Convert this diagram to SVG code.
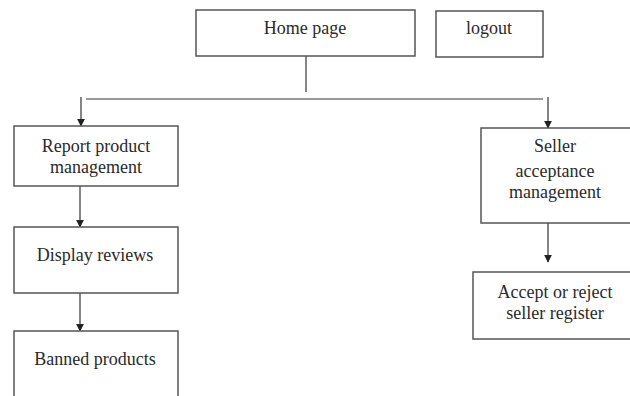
<svg xmlns="http://www.w3.org/2000/svg" width="630" height="396" viewBox="0 0 630 396">
  <style>
    .box { fill: #ffffff; stroke: #555555; stroke-width: 1.5; }
    .lbl { font-family: "Liberation Serif", "Times New Roman", serif; font-size: 18px; fill: #2a2a2a; text-anchor: middle; }
    .wire { fill: none; stroke: #444444; stroke-width: 1.3; }
    .bus { fill: none; stroke: #999999; stroke-width: 2.2; }
  </style>
  <defs>
    <marker id="arrow" viewBox="0 0 10 10" refX="9" refY="5" markerWidth="8" markerHeight="8" markerUnits="userSpaceOnUse" orient="auto">
      <path d="M0,0 L10,5 L0,10 z" fill="#222222"/>
    </marker>
  </defs>
  <rect width="630" height="396" fill="#ffffff"/>

  <g id="connectors">
    <line class="wire" x1="306" y1="56" x2="306" y2="92"/>
    <line class="bus" x1="86" y1="99" x2="543" y2="99"/>
    <line class="wire" x1="81" y1="97" x2="81" y2="126" marker-end="url(#arrow)"/>
    <line class="wire" x1="548" y1="97" x2="548" y2="128" marker-end="url(#arrow)"/>
    <line class="wire" x1="80" y1="186" x2="80" y2="227" marker-end="url(#arrow)"/>
    <line class="wire" x1="80" y1="293" x2="80" y2="331" marker-end="url(#arrow)"/>
    <line class="wire" x1="548" y1="223" x2="548" y2="262" marker-end="url(#arrow)"/>
  </g>

  <g id="home">
    <rect class="box" x="196" y="10" width="219" height="46"/>
    <text class="lbl" x="305" y="34">Home page</text>
  </g>
  <g id="logout">
    <rect class="box" x="436" y="11" width="107" height="46"/>
    <text class="lbl" x="489" y="34">logout</text>
  </g>
  <g id="report">
    <rect class="box" x="14" y="126" width="164" height="60"/>
    <text class="lbl" x="96" y="152">Report product</text>
    <text class="lbl" x="96" y="173">management</text>
  </g>
  <g id="reviews">
    <rect class="box" x="14" y="227" width="164" height="66"/>
    <text class="lbl" x="95" y="261">Display reviews</text>
  </g>
  <g id="banned">
    <rect class="box" x="14" y="331" width="164" height="80"/>
    <text class="lbl" x="95" y="365">Banned products</text>
  </g>
  <g id="seller">
    <rect class="box" x="481" y="128" width="160" height="95"/>
    <text class="lbl" x="555" y="152">Seller</text>
    <text class="lbl" x="555" y="177">acceptance</text>
    <text class="lbl" x="555" y="198">management</text>
  </g>
  <g id="accept">
    <rect class="box" x="473" y="272" width="168" height="67"/>
    <text class="lbl" x="555" y="298">Accept or reject</text>
    <text class="lbl" x="555" y="319">seller register</text>
  </g>
</svg>
